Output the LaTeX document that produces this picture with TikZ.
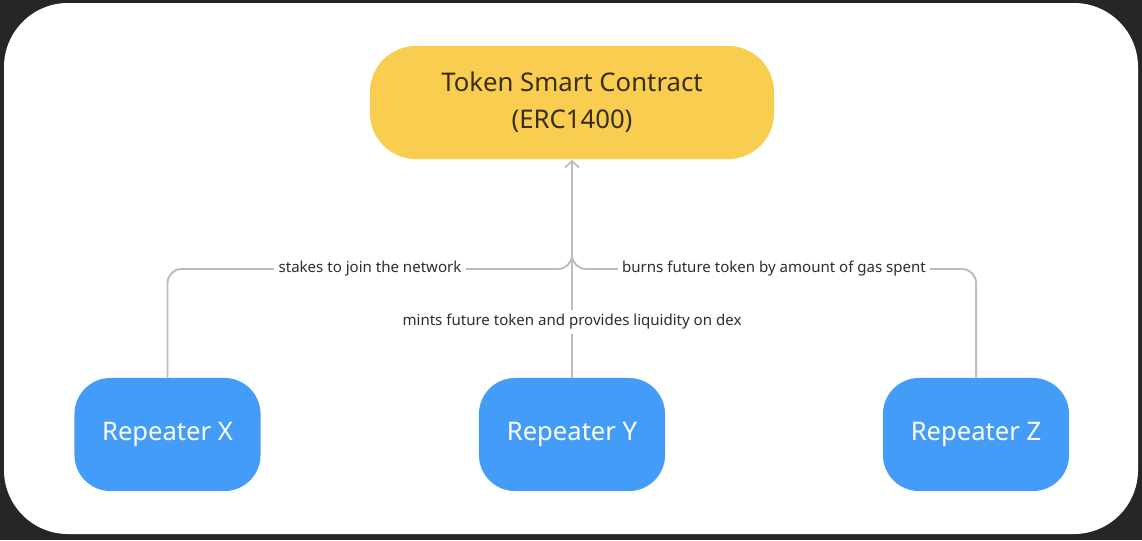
\documentclass[tikz,border=0pt]{standalone}
\usepackage{fontspec}
\setmainfont{Noto Sans}
\usetikzlibrary{arrows.meta,positioning}
\definecolor{frameback}{HTML}{262626}
\definecolor{tokenyellow}{HTML}{F8CD50}
\definecolor{repblue}{HTML}{449CF9}
\definecolor{linegray}{HTML}{BDBDBD}
\definecolor{labeltext}{HTML}{2E2E2E}
\definecolor{tokentext}{HTML}{3A2E12}
\begin{document}
\begin{tikzpicture}[x = 0.025cm, y = -0.025cm,
        token/.style = {fill = tokenyellow, text = tokentext, rounded corners = 1.15cm,
            minimum width = 10.1cm, minimum height = 2.825cm, align = center,
            font = \fontsize{18.3}{26}\selectfont},
        repeater/.style = {fill = repblue, text = white, rounded corners = 0.9cm,
            minimum width = 4.65cm, minimum height = 2.825cm,
            font = \fontsize{18.2}{21}\selectfont},
        conn/.style = {draw = linegray, line width = 1.4pt},
        tag/.style = {fill = white, text = labeltext, inner sep = 3pt,
            font = \fontsize{10.7}{12}\selectfont}]
    % Frame
    \fill [frameback] (0, 0) rectangle (1142, 540);
    \fill [white, rounded corners = 1.6cm] (4, 3) rectangle (1138, 534);
    % Nodes
    \node [token] (contract) at (572, 102.5) {Token Smart Contract\\(ERC1400)};
    \node [repeater] (repX) at (167.5, 434.5) {Repeater X};
    \node [repeater] (repY) at (572, 434.5) {Repeater Y};
    \node [repeater] (repZ) at (976, 434.5) {Repeater Z};
    \coordinate (join) at (572, 269);
    \coordinate (tip) at (572, 160);
    % Connectors
    \draw [conn, rounded corners = 0.35cm]
        (repX.north) |- (join) -- (tip);
    \draw [conn, rounded corners = 0.35cm]
        (repZ.north) |- (join) -- (tip);
    \draw [conn, -{Straight Barb[length = 4.5pt, width = 10pt, line width = 1.2pt]}]
        (repY.north) -- (tip);
    % Labels
    \node [tag] (stakes) at (370, 269) {stakes to join the network};
    \node [tag] (burns) at (774, 269) {burns future token by amount of gas spent};
    \node [tag] (mints) at (572, 322) {mints future token and provides liquidity on dex};
\end{tikzpicture}
\end{document}
